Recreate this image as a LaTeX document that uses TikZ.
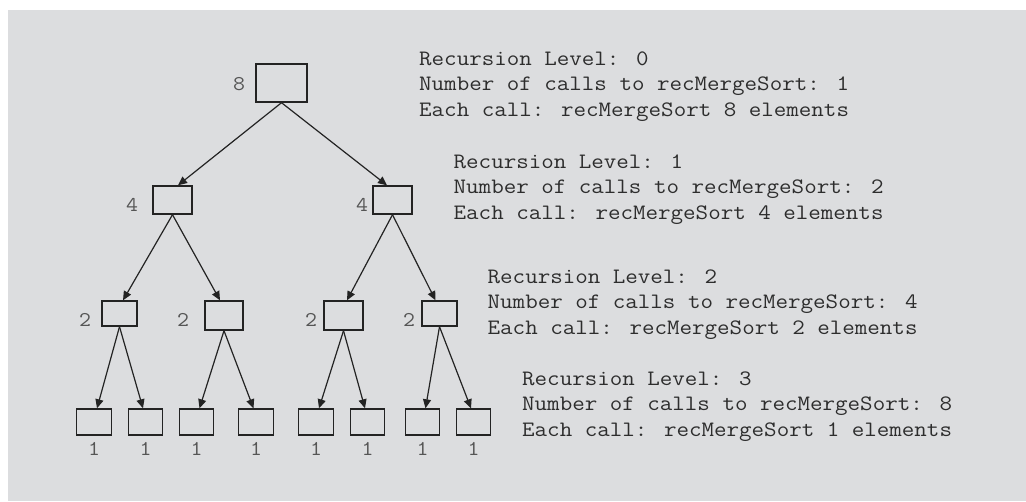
\documentclass[tikz,border=0pt]{standalone}
\usepackage{fontspec}
\newfontfamily\monof[FakeStretch=1.105]{Latin Modern Mono}
\usetikzlibrary{arrows.meta}
\definecolor{bg}{RGB}{220,221,223}
\definecolor{ink}{RGB}{35,35,35}
\definecolor{txt}{RGB}{45,45,45}
\definecolor{lbl}{RGB}{85,85,85}
\tikzset{
  box/.style={draw=ink, line width=1.4pt, inner sep=0pt, minimum width=#1},
  box/.default=35pt,
  conn/.style={draw=ink, line width=1.2pt, -{Triangle[length=9pt,width=8pt]}},
  info/.style={anchor=base west, inner sep=0pt, text=txt, font=\monof\fontsize{22}{25}\selectfont},
  num/.style={inner sep=0pt, text=lbl, font=\monof\fontsize{21}{24}\selectfont}
}
\begin{document}
\begin{tikzpicture}[x=1pt,y=-1pt]
\useasboundingbox (0,0) rectangle (1026,501);
\fill[bg] (8,10) rectangle (1026,501);
% level 0
\node[box=51pt, minimum height=38pt] (r) at (281.5,83) {};
\node[num] (l8) at (239,84) {8};
% level 1
\node[box=39pt, minimum height=28pt] (a) at (172.5,200) {};
\node[box=39pt, minimum height=28pt] (b) at (392.5,200) {};
\node[num] (l4a) at (132,205) {4};
\node[num] (l4b) at (362,205) {4};
% level 2
\node[box=35pt, minimum height=25pt] (aa) at (119.5,313.5) {};
\node[box=38pt, minimum height=29pt] (ab) at (224,315.5) {};
\node[box=39pt, minimum height=29pt] (ba) at (343.5,315.5) {};
\node[box=35pt, minimum height=25pt] (bb) at (439.5,313.5) {};
\node[num] (l2a) at (85,320) {2};
\node[num] (l2b) at (183,320) {2};
\node[num] (l2c) at (311,320) {2};
\node[num] (l2d) at (409,320) {2};
% level 3
\foreach \n/\x in {1/94,2/145.5,3/196.5,4/256,5/316,6/367.5,7/422.5,8/473.5}{
  \node[box=34.5pt, minimum height=26pt] (c\n) at (\x,422) {};
  \node[num] (l1\n) at (\x,449) {1};
}
% connectors
\draw[conn] (r.south) -- ([xshift=5.5pt]a.north);
\draw[conn] (r.south) -- ([xshift=-5.5pt]b.north);
\draw[conn] (a.south) -- ([xshift=3.5pt]aa.north);
\draw[conn] (a.south) -- ([xshift=-4pt]ab.north);
\draw[conn] (b.south) -- ([xshift=3.5pt]ba.north);
\draw[conn] (b.south) -- ([xshift=-4pt]bb.north);
\draw[conn] (aa.south) -- ([xshift=3pt]c1.north);
\draw[conn] (aa.south) -- ([xshift=-2.5pt]c2.north);
\draw[conn] (ab.south) -- ([xshift=3pt]c3.north);
\draw[conn] (ab.south) -- ([xshift=-2.5pt]c4.north);
\draw[conn] (ba.south) -- ([xshift=3pt]c5.north);
\draw[conn] (ba.south) -- ([xshift=-2.5pt]c6.north);
\draw[conn] (bb.south) -- ([xshift=3pt]c7.north);
\draw[conn] (bb.south) -- ([xshift=-2.5pt]c8.north);
% info texts
\node[info] (t0a) at (419,65) {Recursion Level: 0};
\node[info] (t0b) at (419,90.5) {Number of calls to recMergeSort: 1};
\node[info] (t0c) at (419,116) {Each call: recMergeSort 8 elements};
\node[info] (t1a) at (453.5,168) {Recursion Level: 1};
\node[info] (t1b) at (453.5,193.5) {Number of calls to recMergeSort: 2};
\node[info] (t1c) at (453.5,219) {Each call: recMergeSort 4 elements};
\node[info] (t2a) at (487.5,283) {Recursion Level: 2};
\node[info] (t2b) at (487.5,308.5) {Number of calls to recMergeSort: 4};
\node[info] (t2c) at (487.5,334) {Each call: recMergeSort 2 elements};
\node[info] (t3a) at (522,385) {Recursion Level: 3};
\node[info] (t3b) at (522,410.5) {Number of calls to recMergeSort: 8};
\node[info] (t3c) at (522,436) {Each call: recMergeSort 1 elements};
\end{tikzpicture}
\end{document}
